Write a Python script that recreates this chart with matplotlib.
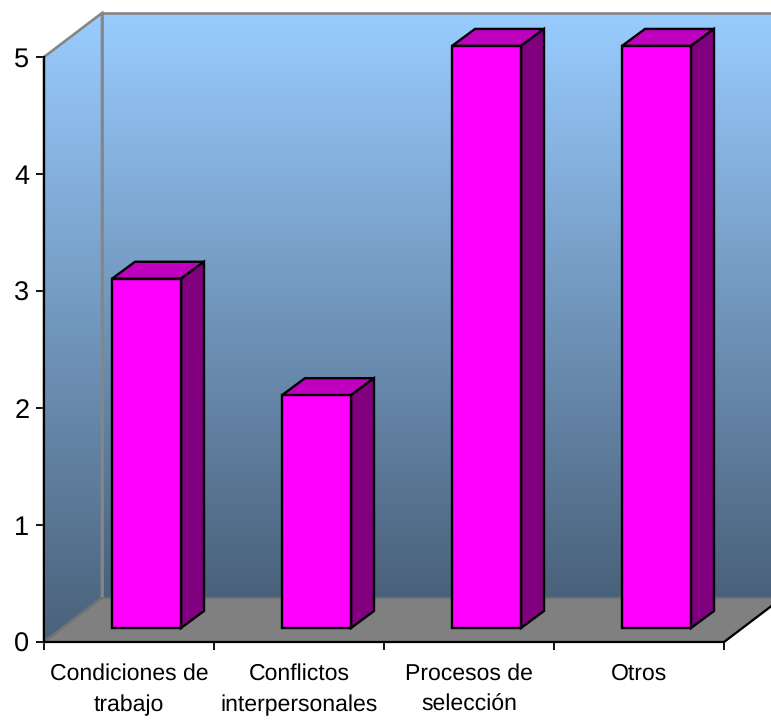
import matplotlib
matplotlib.use('Agg')
import matplotlib.pyplot as plt
import numpy as np
from matplotlib.colors import LinearSegmentedColormap
from matplotlib.patches import Polygon

categories = ['Condiciones de\ntrabajo', 'Conflictos\ninterpersonales', 'Procesos de\nselección', 'Otros']
values = [3, 2, 5, 5]
y_ticks = [0, 1, 2, 3, 4, 5]

plt.rcParams['font.family'] = ['Liberation Sans', 'DejaVu Sans']
plt.rcParams['text.hinting'] = 'none'

fig = plt.figure(figsize=(7.71, 7.2), dpi=100)
# axes box is the front plane of the 3d chart
ax = fig.add_axes([44 / 771, 78 / 720, 680 / 771, 585 / 720])
ax.patch.set_visible(False)

# pixel sizes of the fake 3d depth, turned into data units
px_x = 4 / 680
px_y = 5 / 585
wall_dx = 58 * px_x
wall_dy = 44 * px_y
bar_dx = 23 * px_x
bar_dy = 17 * px_y
bar_shift_x = 17.5 * px_x
bar_shift_y = 14 * px_y
bar_half = 34.5 * px_x
bar_scale = 0.995

x0, x1 = -0.5, 3.5
y0, y1 = 0, 5

grad = LinearSegmentedColormap.from_list('wall', ['#99ccff', '#4a617a'])
img = np.linspace(0, 1, 256).reshape(-1, 1)

# back wall
back = Polygon([(x0 + wall_dx, y0 + wall_dy), (x1 + wall_dx, y0 + wall_dy),
                (x1 + wall_dx, y1 + wall_dy), (x0 + wall_dx, y1 + wall_dy)],
               closed=True, fc='none', ec='#868686', lw=1.9, clip_on=False, zorder=2)
ax.add_patch(back)
im = ax.imshow(img, cmap=grad, aspect='auto', origin='upper', zorder=1,
               extent=(x0 + wall_dx, x1 + wall_dx, y0 + wall_dy, y1 + wall_dy))
im.set_clip_box(fig.bbox)
im.set_clip_path(back)

# side wall
side = Polygon([(x0, y0), (x0 + wall_dx, y0 + wall_dy), (x0 + wall_dx, y1 + wall_dy), (x0, y1)],
               closed=True, fc='none', ec='#868686', lw=1.9, clip_on=False, zorder=2)
ax.add_patch(side)
im2 = ax.imshow(img, cmap=grad, aspect='auto', origin='upper', zorder=1,
                extent=(x0, x0 + wall_dx, y0, y1 + wall_dy))
im2.set_clip_box(fig.bbox)
im2.set_clip_path(side)

# floor
floor = Polygon([(x0, y0), (x1, y0), (x1 + wall_dx, y0 + wall_dy), (x0 + wall_dx, y0 + wall_dy)],
                closed=True, fc='#808080', ec='#707070', lw=1.4, clip_on=False, zorder=3)
ax.add_patch(floor)
ax.plot([x1, x1 + wall_dx], [y0, y0 + wall_dy], color='black', lw=1.6, clip_on=False, zorder=4)

# bars
for i, v in enumerate(values):
    left = i - bar_half + bar_shift_x
    right = i + bar_half + bar_shift_x
    bottom = bar_shift_y
    top = bottom + v * bar_scale
    ax.add_patch(Polygon([(left, bottom), (right, bottom), (right, top), (left, top)],
                         fc='#ff00ff', ec='black', lw=1.7, joinstyle='miter', clip_on=False, zorder=7))
    ax.add_patch(Polygon([(left, top), (right, top), (right + bar_dx, top + bar_dy), (left + bar_dx, top + bar_dy)],
                         fc='#bf00bf', ec='black', lw=1.7, joinstyle='miter', clip_on=False, zorder=6))
    ax.add_patch(Polygon([(right, bottom), (right + bar_dx, bottom + bar_dy), (right + bar_dx, top + bar_dy), (right, top)],
                         fc='#800080', ec='black', lw=1.7, joinstyle='miter', clip_on=False, zorder=6))

ax.set_xlim(x0, x1)
ax.set_ylim(y0, y1)

for s in ['top', 'right']:
    ax.spines[s].set_visible(False)
for s in ['left', 'bottom']:
    ax.spines[s].set_linewidth(1.6)
    ax.spines[s].set_zorder(5)

ax.set_yticks(y_ticks)
ax.tick_params(axis='y', length=6, width=1.3, labelsize=19.5, pad=4.5)

# category edges get the tick marks, centers get the labels
ax.set_xticks(np.arange(len(categories) + 1) - 0.5)
ax.set_xticklabels([])
ax.set_xticks(np.arange(len(categories)), labels=categories, minor=True)
ax.tick_params(axis='x', which='major', length=6, width=1.3)
ax.tick_params(axis='x', which='minor', length=0, labelsize=16.6, pad=15)
for label in ax.get_xticklabels(minor=True):
    label.set_linespacing(1.62)

fig.savefig('out.png', dpi=100)
